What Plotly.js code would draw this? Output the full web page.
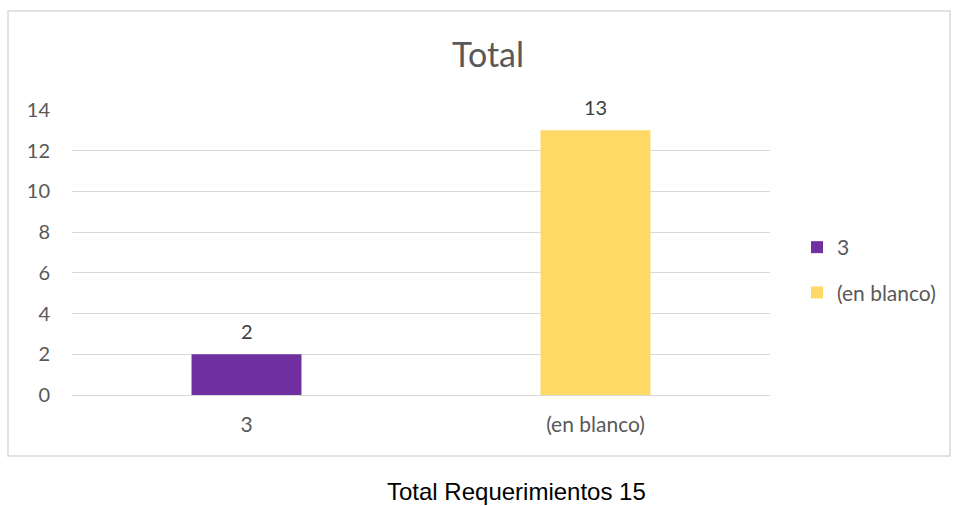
<!DOCTYPE html>
<html>
<head>
<meta charset="utf-8">
<script src="https://cdn.plot.ly/plotly-3.0.1.min.js"></script>
<style>
  html, body { margin: 0; padding: 0; background: #fff; }
  #myPlot { width: 953px; height: 506px; }
</style>
</head>
<body>
<div id="myPlot"></div>
<script>
// Data
const categories = ['3', '(en blanco)'];
const values = [2, 13];
const colors = ['#7030a0', '#ffd966'];
const caption = 'Total Requerimientos 15';

const W = 953, H = 506;
const margin = {l: 72, r: 183, t: 110, b: 111};
const pw = W - margin.l - margin.r;
const ph = H - margin.t - margin.b;
// pixel -> paper helpers
const px = x => (x - margin.l) / pw;
const py = y => (H - margin.b - y) / ph;

const data = categories.map((c, i) => ({
    x: [c],
    y: [values[i]],
    name: c,
    legendgroup: 'g' + i,
    type: 'bar',
    width: 0.315,
    marker: {color: colors[i]},
    hoverinfo: 'x+y',
}));

// value labels sit a bit higher above the bars than plotly's 'outside' text
// (x given as category index, since '3' would be read as a position)
const valueLabels = categories.map((c, i) => ({
    x: i,
    y: values[i],
    xref: 'x', yref: 'y',
    text: String(values[i]),
    showarrow: false,
    yanchor: 'middle',
    yshift: 23,
    font: {family: 'Lato, "Open Sans", sans-serif', size: 20, color: '#404040'},
}));

const layout = {
    width: W,
    height: H,
    margin: margin,
    barmode: 'overlay',
    font: {family: 'Lato, "Open Sans", sans-serif', color: '#595959', size: 21},
    title: {
        text: 'Total',
        font: {size: 34, color: '#595959'},
        xref: 'paper',
        x: px(488),
        xanchor: 'center',
        yref: 'container',
        y: 1 - 55 / H,
        yanchor: 'middle',
    },
    xaxis: {
        type: 'category',
        categoryorder: 'array',
        categoryarray: categories,
        range: [-0.5, categories.length - 0.5],
        showgrid: false,
        zeroline: false,
        showline: false,
        ticks: '',
        ticklen: 0,
        ticklabelstandoff: 15,
        tickfont: {size: 21, color: '#595959'},
    },
    yaxis: {
        range: [0, 14],
        dtick: 2,
        showgrid: true,
        gridcolor: '#d9d9d9',
        gridwidth: 1,
        zeroline: true,
        zerolinecolor: '#d9d9d9',
        zerolinewidth: 1,
        showline: false,
        ticks: '',
        ticklabelstandoff: 21,
        tickfont: {size: 20, color: '#595959'},
    },
    legend: {
        x: px(797),
        xanchor: 'left',
        y: py(227),
        yanchor: 'top',
        font: {size: 21, color: '#595959'},
        tracegroupgap: 15,
        itemwidth: 30,
    },
    shapes: [{
        type: 'rect',
        xref: 'paper', yref: 'paper',
        x0: px(8), x1: px(950),
        y0: py(456), y1: py(11),
        line: {color: '#d9d9d9', width: 1.5},
        fillcolor: 'rgba(0,0,0,0)',
        layer: 'below',
    }],
    annotations: valueLabels.concat([{
        text: caption,
        xref: 'paper', yref: 'paper',
        x: px(516), y: py(491),
        xanchor: 'center', yanchor: 'middle',
        showarrow: false,
        font: {family: 'Liberation Sans, Arial, sans-serif', size: 24, color: '#000'},
    }]),
    paper_bgcolor: '#fff',
    plot_bgcolor: '#fff',
    showlegend: true,
};

Plotly.newPlot('myPlot', data, layout, {displayModeBar: false, staticPlot: true});
</script>
</body>
</html>
